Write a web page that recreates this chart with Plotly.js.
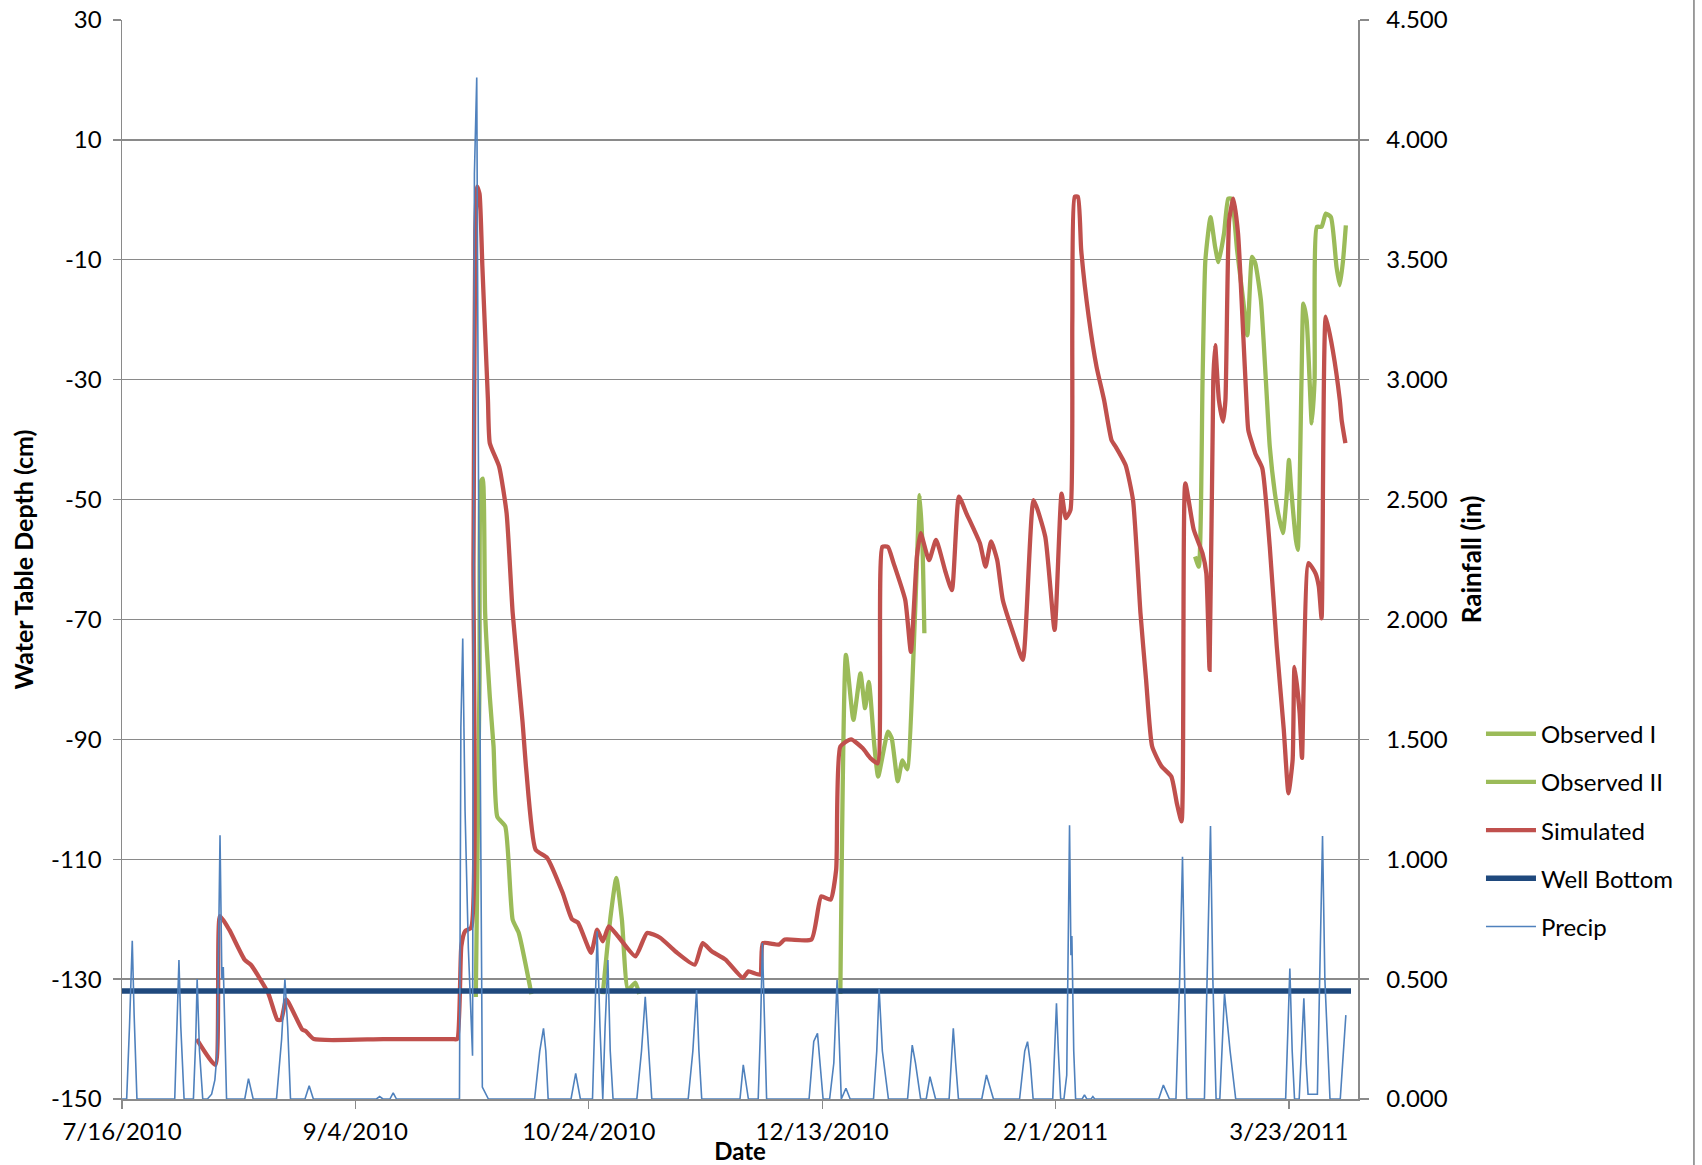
<!DOCTYPE html>
<html><head><meta charset="utf-8">
<script src="https://cdn.plot.ly/plotly-3.0.1.min.js"></script>
<style>html,body{margin:0;padding:0;background:#fff}#chart{width:1702px;height:1165px}</style>
</head><body><div id="chart"></div>
<script>
// All x values are "days after 7/16/2010"
const START_DATE = '2010-07-16';

const tickDays   = [0, 50, 100, 150, 200, 250];
const tickLabels = ['7/16/2010','9/4/2010','10/24/2010','12/13/2010','2/1/2011','3/23/2011'];
const xRangeDays = [0, 264.8];

const depthTicks      = [-150,-130,-110,-90,-70,-50,-30,-10,10,30];
const depthTickLabels = ['-150','-130','-110','-90','-70','-50','-30','-10','10','30'];

// Simulated water table depth (cm)
const simDays = [
  16,20,21,23,26.3,27.6,31.3,33.3,34.1,35.2,38.6,39.4,41.1,56,70.8,
  71.8,72.7,73.5,74.8,75.3,75.7,76.1,76.6,77.2,77.8,78.4,
  78.8,80.8,82.4,83.7,85.8,86.6,88.6,91.1,94.4,96.4,97.7,
  100.5,101.8,103,104.3,106.3,110,112.5,115.3,118.6,122.7,124.4,
  126.4,129.3,133,134.2,136.7,137.3,140.7,142,147.7,149.8,151.8,
  153,153.9,156.2,158.7,160.3,161.9,162.9,164.1,165.3,167.8,169,
  170.3,171.1,172.9,174.4,176.4,177.8,179.3,180.9,183.8,185,186.2,
  187.5,188.7,191.2,193,195.3,197.8,199.8,201.3,202.2,203.2,203.6,
  204.1,204.8,205.5,207.1,208.8,210.4,212,212.9,215,216.6,218.2,
  219.4,220.7,222.7,224.8,226,227,227.8,229.6,231.5,232.3,233,
  233.8,234.2,235,235.9,236.4,237.2,238.1,239.1,240.2,240.9,241.3,
  242.8,244.3,245.9,247.4,248.9,249.9,250.8,251.2,252.3,252.8,254.2,
  255.7,256.4,257,257.9,259.4,260.9,261.3,262.1
];
const simDepth = [
  -140,-144.3,-119.5,-121.8,-126.8,-127.6,-132.3,-136.8,-136.8,-133.4,-138.4,-138.7,-140,-140,-140,
  -140,-124.5,-122,-121.4,-60,-5,2.2,1,-11,-22.3,-33.4,
  -40.6,-44.5,-52.3,-68.9,-87,-95,-108.4,-109.8,-115.6,-120,-120.6,
  -125.6,-121.75,-123.7,-121.2,-122.9,-126.2,-122.3,-123.1,-125.4,-127.6,-124,
  -125.4,-126.75,-129.8,-128.7,-129.25,-124,-124.25,-123.4,-123.4,-116.2,-116.75,
  -111.75,-91.2,-90,-91.5,-93.1,-94,-57.9,-57.9,-60.6,-66.75,-75.4,
  -59.5,-55.6,-60.1,-56.75,-62,-65.1,-49.5,-52.3,-57.3,-61.2,-57,
  -60.1,-66.75,-72.9,-76.75,-50.1,-56.2,-71.75,-49,-53.1,-51.75,-20,
  0.5,0.5,-8.4,-19.5,-27.9,-33.4,-40.1,-41.2,-44.25,-50.1,-69,
  -80.1,-91.2,-94.5,-96.2,-100.7,-103.7,-47.3,-55,-59,-62.3,-78.4,
  -30,-24.25,-33.4,-37,-33.4,-3.4,0.2,-5.6,-22.3,-33.4,-38.4,
  -42.3,-44.8,-57.9,-74.5,-88.4,-99,-93.4,-77.9,-85.6,-93.1,-60.6,
  -62.3,-64.5,-69.8,-19.5,-25.1,-33.4,-36.75,-40.6
];

// Observed I (three separate runs, null = gap)
const obs1Days = [
  75.8,76.6,76.9,77.3,77.8,78.8,79.6,80.4,82.1,83.7,85,87.4,87.7,
  88,
  103,104.6,105.9,107.1,108.4,110,110.8,
  120,
  153.9,155.1,156.7,158.2,159.2,160,161.2,162,164.1,164.9,166.2,167.2,168.2,169.9,170.9,171.5,171.9
];
const obs1Depth = [
  -133,-80,-47,-46.5,-69,-82.9,-91.2,-102.9,-104.5,-120.1,-122.3,-131.2,-132.5,
  null,
  -132.5,-120,-113.1,-120.1,-131.75,-130.6,-132.5,
  null,
  -132.5,-75.9,-86.75,-79,-84.8,-80.4,-91.2,-96.2,-88.7,-89.8,-97,-93.5,-95,-69,-49.25,-57.9,-72.3
];

// Observed II
const obs2Days = [
  229.9,230.7,231.5,232.1,233.2,234.2,234.9,236.1,237,237.7,
  238.9,240.2,241.1,242.1,242.8,244,245.1,245.9,247,247.7,
  248.7,249.5,250,250.5,251.5,251.9,252.7,253.1,253.8,254.9,
  255.5,256,257,257.9,259,260.2,260.9,261.6,262.2
];
const obs2Depth = [
  -59.5,-61.2,-30,-10.1,-2.9,-7.9,-10.4,-5.6,0.2,0.2,
  -8.4,-16.75,-22.6,-9.5,-10.6,-16.75,-30.6,-41.2,-49,-52.3,
  -55.6,-49.5,-43.4,-48.4,-56.75,-58.4,-30,-17.3,-20.1,-37.3,
  -30,-4.5,-4.5,-2.3,-2.9,-11.2,-14.25,-10.1,-4.25
];

// Well bottom (cm)
const wellDays  = [0, 263.3];
const wellDepth = [-132, -132];

// Precipitation (in), right axis
const precipDays = [
  0,1,1.6,2.2,2.6,3.2,
  11.3,11.8,12.2,12.6,13.3,
  15.3,15.8,16.1,16.6,17.3,
  18.3,19.2,19.9,20.4,21,21.4,21.7,22.4,
  26.3,27.1,28.1,
  33.1,34.2,34.9,35.5,36.1,
  39.2,40.1,41,
  54.5,55.2,55.9,57.4,58.1,58.8,
  72.3,72.6,73,73.5,74.2,75.1,75.5,76,76.4,76.9,77.2,78.5,
  88.4,89.5,90.3,90.8,91.3,
  96.2,97.2,98.2,
  100.8,101.4,101.8,102.4,103,103.5,104.1,104.6,105.2,
  110.3,111.3,112.1,112.8,113.5,
  121.3,122.3,123.1,123.6,124.2,
  132.4,133.1,134.2,
  136.3,136.8,137.2,137.6,138.1,
  147.2,148.2,149,149.6,150.2,
  151.6,152.5,153.2,153.7,154.1,155.1,156,
  161,161.7,162.2,162.9,164.2,
  168.3,169.3,170,171.1,
  172.3,173.1,174.3,
  177.2,178.1,178.6,179.2,
  184.2,185.2,186.7,
  192.3,193.4,194,194.6,195.2,
  199.4,200.2,200.6,201.1,
  201.8,202.4,203,203.3,203.5,203.9,204.3,
  205.7,206.2,206.7,207.6,208,208.4,
  222.1,223.1,224.4,
  225.8,226.6,227.2,227.6,228.1,
  231.9,232.6,233.2,233.7,234.4,
  235.2,236.2,237.4,238.6,
  249.3,249.8,250.2,250.7,251.2,
  252.2,253.2,253.7,254.1,256.1,256.6,257.2,257.7,258.8,
  261,262.2
];
const precipIn = [
  0,0,0.3,0.66,0.35,0,
  0,0.3,0.58,0.3,0,
  0,0.25,0.5,0.2,0,
  0,0.02,0.08,0.2,1.1,0.5,0.55,0,
  0,0.085,0,
  0,0.25,0.5,0.3,0,
  0,0.055,0,
  0,0.01,0,0,0.026,0,
  0,1.55,1.92,1.2,0.63,0.18,3.86,4.26,2.5,1.05,0.05,0,
  0,0.2,0.295,0.2,0,
  0,0.107,0,
  0,0.4,0.7,0.3,0,0.3,0.58,0.2,0,
  0,0.2,0.426,0.2,0,
  0,0.2,0.454,0.2,0,
  0,0.142,0,
  0,0.3,0.65,0.3,0,
  0,0.24,0.274,0.15,0,
  0,0.15,0.496,0.2,0,0.045,0,
  0,0.2,0.46,0.2,0,
  0,0.225,0.15,0,
  0,0.093,0,
  0,0.295,0.15,0,
  0,0.1,0,
  0,0.2,0.239,0.15,0,
  0,0.399,0.2,0,
  0,0.1,1.142,0.6,0.68,0.2,0,
  0,0.017,0,0,0.01,0,
  0,0.058,0,
  0,0.5,1.01,0.5,0,
  0,0.6,1.138,0.5,0,
  0,0.44,0.2,0,
  0,0.3,0.544,0.2,0,
  0,0.42,0.15,0.02,0.02,0.5,1.097,0.5,0,
  0,0.35
];

// day offset -> date string for Plotly's date axis
const startMs = Date.parse(START_DATE + 'T00:00:00Z');
const toDate = d => new Date(startMs + d * 86400000).toISOString().slice(0, 19).replace('T', ' ');

const FONT = 'Lato, "Open Sans", sans-serif';
const GRID = '#8a8a8a';

const traces = [
  {name: 'Observed I', x: obs1Days.map(toDate), y: obs1Depth, type: 'scatter', mode: 'lines',
   line: {color: '#9BBB59', width: 4.3, shape: 'spline', smoothing: 0.5}, legendgroup: 'a'},
  {name: 'Observed II', x: obs2Days.map(toDate), y: obs2Depth, type: 'scatter', mode: 'lines',
   line: {color: '#9BBB59', width: 4.3, shape: 'spline', smoothing: 0.5}, legendgroup: 'b'},
  {name: 'Simulated', x: simDays.map(toDate), y: simDepth, type: 'scatter', mode: 'lines',
   line: {color: '#C0504D', width: 4.3, shape: 'spline', smoothing: 0.5}, legendgroup: 'c'},
  {name: 'Well Bottom', x: wellDays.map(toDate), y: wellDepth, type: 'scatter', mode: 'lines',
   line: {color: '#1F497D', width: 5.5}, legendgroup: 'd'},
  {name: 'Precip', x: precipDays.map(toDate), y: precipIn, type: 'scatter', mode: 'lines', yaxis: 'y2',
   line: {color: '#4F81BD', width: 1.6}, legendgroup: 'e'}
];

const layout = {
  width: 1702, height: 1165,
  margin: {l: 122, r: 344, t: 20, b: 66, pad: 0},
  paper_bgcolor: '#fff', plot_bgcolor: 'rgba(0,0,0,0)',
  font: {family: FONT, size: 24, color: '#000'},
  showlegend: true,
  legend: {x: 1.0995, xanchor: 'left', y: 0.359, yanchor: 'top',
           font: {family: FONT, size: 24, color: '#000'}, bgcolor: 'rgba(0,0,0,0)',
           traceorder: 'grouped', tracegroupgap: 14, itemwidth: 50},
  xaxis: {
    type: 'date', range: xRangeDays.map(toDate),
    tickmode: 'array', tickvals: tickDays.map(toDate), ticktext: tickLabels,
    ticks: 'outside', ticklen: 8, tickwidth: 1.3, tickcolor: GRID, ticklabelstandoff: 3,
    showgrid: false, zeroline: false, showline: true, linecolor: GRID, linewidth: 1.5,
    tickfont: {family: FONT, size: 24, color: '#000'},
    title: {text: '<b>Date</b>', font: {family: FONT, size: 24, color: '#000'}, standoff: 0},
    automargin: false
  },
  yaxis: {
    range: [-150, 30], tickmode: 'array', tickvals: depthTicks, ticktext: depthTickLabels,
    showgrid: true, gridcolor: GRID, gridwidth: 1.3, zeroline: false,
    showline: true, linecolor: GRID, linewidth: 1.5,
    ticks: 'outside', ticklen: 8, tickwidth: 1.3, tickcolor: GRID, ticklabelstandoff: 6,
    tickfont: {family: FONT, size: 24, color: '#000'},
    title: {text: '<b>Water Table Depth (cm)</b>', font: {family: FONT, size: 25, color: '#000'}, standoff: 10},
    automargin: false
  },
  yaxis2: {
    overlaying: 'y', side: 'right', range: [0, 4.5], tickmode: 'linear', tick0: 0, dtick: 0.5,
    tickformat: '.3f', showgrid: false, zeroline: false,
    showline: true, linecolor: GRID, linewidth: 1.5,
    ticks: 'outside', ticklen: 9, tickwidth: 1.3, tickcolor: GRID, ticklabelstandoff: 13,
    tickfont: {family: FONT, size: 24, color: '#000'},
    title: {text: '<b>Rainfall (in)</b>', font: {family: FONT, size: 26, color: '#000'}, standoff: 16},
    automargin: false
  },
  shapes: [
    {type: 'line', xref: 'paper', yref: 'paper', x0: 1.2718, x1: 1.2718, y0: -0.08, y1: 1.03,
     line: {color: '#7f7f7f', width: 1.5}}
  ]
};

Plotly.newPlot('chart', traces, layout, {displayModeBar: false, staticPlot: true});
</script>
</body></html>
